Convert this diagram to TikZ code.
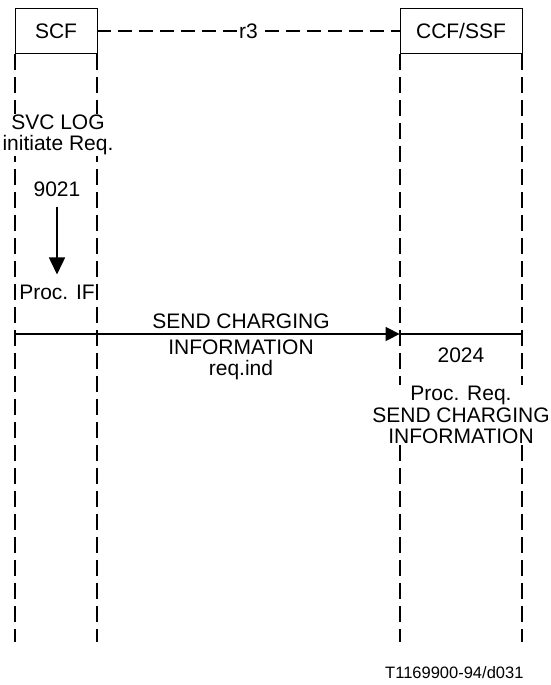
\documentclass[tikz,border=0pt]{standalone}
\usepackage{fontspec}
\setmainfont{Liberation Sans}
\usetikzlibrary{arrows.meta,positioning}

\begin{document}
\begin{tikzpicture}[x=1pt, y=-1pt,
  every node/.style={font=\fontsize{21}{21.5}\selectfont},
  entity/.style={rectangle, draw, line width=0.8pt, minimum width=82pt,
                 minimum height=45pt, inner sep=0pt},
  life/.style={line width=2pt, dash pattern=on 16pt off 7pt},
  link/.style={line width=1.3pt, dash pattern=on 14pt off 7pt},
  msg/.style={line width=1.4pt, -{Triangle[length=14pt,width=14pt]}},
  flow/.style={line width=1.6pt, -{Triangle[length=17pt,width=16pt]}},
  note/.style={align=center, fill=white, inner sep=1pt},
  act/.style={inner sep=10pt}]

\useasboundingbox (0,0) rectangle (551,685);

\node[entity] (scf) at (56,31) {SCF};
\node[entity, minimum width=122pt] (ccf) at (461,31) {CCF/SSF};
\draw[link] (scf) -- node[fill=white, inner sep=1pt] (r3) {r3} (ccf);

\coordinate (bottom) at (0,642);
\coordinate (msgrow) at (0,334);
\coordinate (scfA) at (scf.south west |- bottom);
\coordinate (scfB) at (scf.south east |- bottom);
\coordinate (ccfA) at (ccf.south west |- bottom);
\coordinate (ccfB) at (ccf.south east |- bottom);
\draw[life] (scf.south west) -- (scfA);
\draw[life] (scf.south east) -- (scfB);
\draw[life] (ccf.south west) -- (ccfA);
\draw[life] (ccf.south east) -- (ccfB);

\node[note] (svclog) at (58,135) {SVC LOG\\initiate Req.};
\node[act] (n9021) at (57,189) {9021};
\node[act] (procif) at (57,292) {Proc. IF};
\draw[flow] (n9021) -- (procif);

\coordinate (msgS) at (scf.south west |- msgrow);
\coordinate (msgT) at (ccf.south west |- msgrow);
\coordinate (msgE) at (ccf.south east |- msgrow);
\draw[msg] (msgS) -- (msgT);
\draw[line width=1.4pt] (msgT) -- (msgE);
\node[anchor=base] (sendtop) at (241,328) {SEND CHARGING};
\node[align=center] (sendbot) at (241,360) {INFORMATION\\req.ind};

\node (n2024) at (461,355) {2024};
\node[note] (procreq) at (461,415) {Proc. Req.\\SEND CHARGING\\INFORMATION};

\node[anchor=east, font=\fontsize{16.5}{18}\selectfont] (tag) at (527,673)
  {T1169900-94/d031};
\end{tikzpicture}
\end{document}
